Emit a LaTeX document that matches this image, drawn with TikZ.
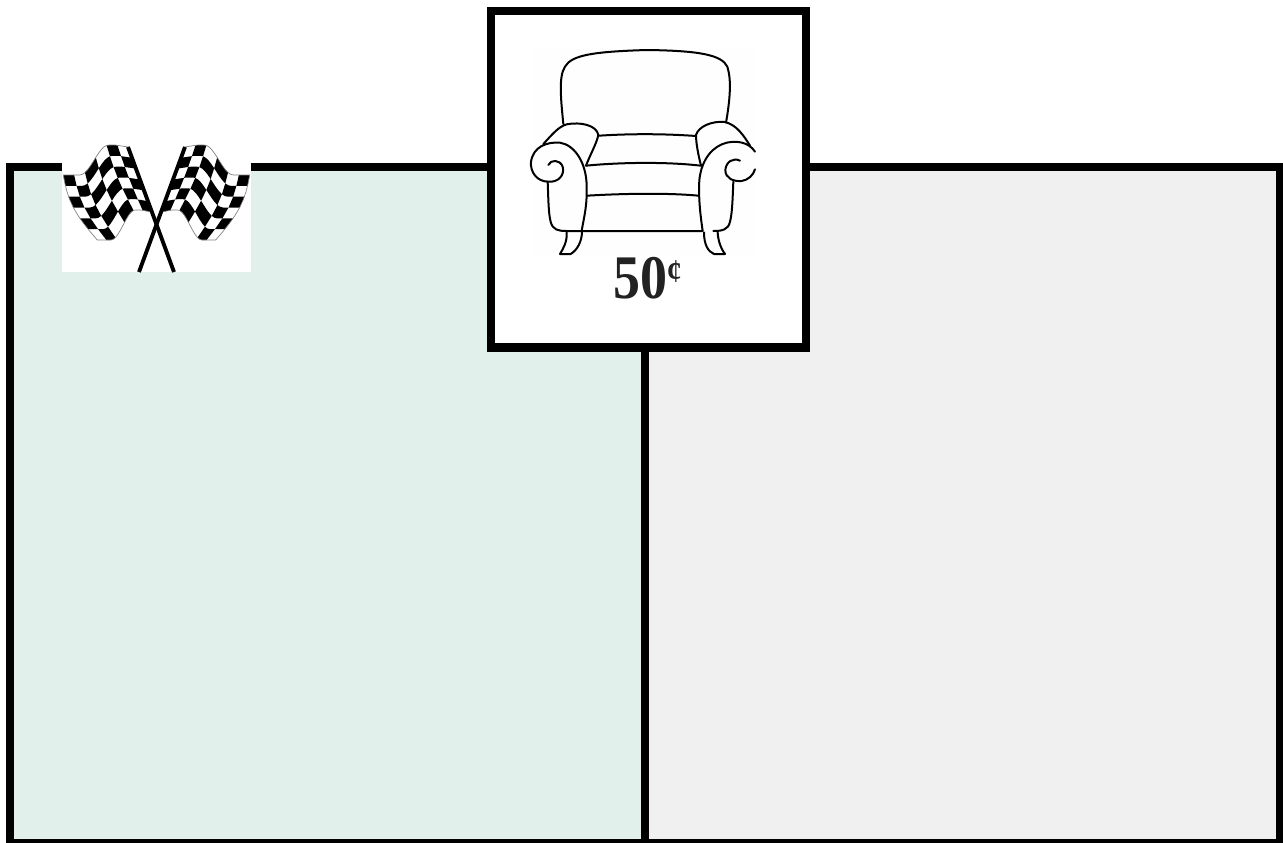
\documentclass[tikz,border=0pt]{standalone}
\usepackage{fontspec}
\setmainfont{Liberation Serif}
\definecolor{panelgreen}{HTML}{E1F0EB}
\definecolor{panelgrey}{HTML}{F0F0F0}
\definecolor{chairbg}{HTML}{FEFEFE}
\definecolor{pricecol}{HTML}{222222}
\pgfmathdeclarefunction{fx}{2}{\pgfmathparse{128.3-65*#1+(23.4+10.6*#1)*#2-7*#1*sin(180*#2)}}
\pgfmathdeclarefunction{fy}{2}{\pgfmathparse{145+2*max(0,1-#1/.2)+15*(1-cos(180*min(1,max(0,(#1-.3)/.45))))+65*#2}}
\tikzset{
  chairline/.style={line width=1.5pt,line cap=round,line join=round,black},
  flagedge/.style={line width=.5pt,gray},
  poleline/.style={line width=2.9pt,black},
}
\newcommand{\oneflag}{%
  \fill[white] plot[variable=\q,domain=0:1,samples=25] ({fx(\q,0)},{fy(\q,0)})
     -- plot[variable=\q,domain=0:1,samples=9] ({fx(1,\q)},{fy(1,\q)})
     -- plot[variable=\q,domain=1:0,samples=25] ({fx(\q,1)},{fy(\q,1)}) -- cycle;
  \foreach \i in {0,...,5}{\foreach \j in {0,...,5}{%
    \pgfmathtruncatemacro{\cellodd}{mod(\i+\j,2)}%
    \ifnum\cellodd=1
      \fill[black] plot[variable=\q,domain=0:1,samples=5] ({fx((\i+\q)/6,\j/6)},{fy((\i+\q)/6,\j/6)})
        -- plot[variable=\q,domain=1:0,samples=5] ({fx((\i+\q)/6,(\j+1)/6)},{fy((\i+\q)/6,(\j+1)/6)}) -- cycle;
    \fi}}
  \draw[flagedge] plot[variable=\q,domain=0:1,samples=25] ({fx(\q,0)},{fy(\q,0)})
     -- plot[variable=\q,domain=0:1,samples=9] ({fx(1,\q)},{fy(1,\q)})
     -- plot[variable=\q,domain=1:0,samples=25] ({fx(\q,1)},{fy(\q,1)});
  \draw[poleline] (128,147) -- (174,272);
}
\begin{document}
\begin{tikzpicture}[x=.75pt,y=-.75pt]
\useasboundingbox (0,0) rectangle (1283,843);
% panels
\fill[black] (6,163) rectangle (1283,843);
\fill[panelgreen] (14,171) rectangle (641,839);
\fill[panelgrey] (649,171) rectangle (1276,839);
% flags
\fill[white] (62,143) rectangle (251,272);
\oneflag
\begin{scope}[xshift=313*.75pt,xscale=-1]
\oneflag
\end{scope}
% price box
\fill[black] (487,7) rectangle (810,352);
\fill[white] (495,15) rectangle (802,343);
\begin{scope}[shift={(480,0)},x=.25pt,y=-.25pt]
\fill[chairbg] (153,148) rectangle (825,765);
% back
\draw[chairline] (250,372) .. controls (243,300) and (235,230) .. (255,200)
  .. controls (275,165) and (340,155) .. (500,150)
  .. controls (660,152) and (725,165) .. (742,200)
  .. controls (755,240) and (750,300) .. (738,368);
% left arm
\draw[chairline] (190,432) .. controls (215,405) and (235,380) .. (260,373)
  .. controls (300,365) and (350,375) .. (355,405) .. controls (350,430) and (330,465) .. (318,497);
\draw[chairline] (205,495) .. controls (212,478) and (240,478) .. (248,500)
  .. controls (255,525) and (235,548) .. (205,545)
  .. controls (170,545) and (150,515) .. (153,485)
  .. controls (160,440) and (200,425) .. (240,428)
  .. controls (285,435) and (320,490) .. (320,560)
  .. controls (322,620) and (310,660) .. (305,693);
\draw[chairline] (203,545) .. controls (205,590) and (205,640) .. (212,665)
  .. controls (218,690) and (235,693) .. (260,693) -- (668,693);
% right arm
\draw[chairline] (810,437) .. controls (790,405) and (770,375) .. (735,366)
  .. controls (695,362) and (655,380) .. (648,405) .. controls (648,430) and (655,465) .. (663,497);
\draw[chairline] (780,482) .. controls (760,472) and (738,485) .. (736,510)
  .. controls (736,535) and (760,545) .. (785,543)
  .. controls (805,540) and (820,525) .. (825,508);
\draw[chairline] (825,455) .. controls (805,425) and (770,422) .. (740,428)
  .. controls (700,438) and (665,475) .. (658,540)
  .. controls (655,600) and (662,650) .. (668,693);
\draw[chairline] (760,545) .. controls (758,590) and (757,640) .. (750,665)
  .. controls (745,690) and (725,693) .. (700,693);
% seat lines
\draw[chairline] (358,407) .. controls (450,401) and (550,401) .. (648,408);
\draw[chairline] (318,497) .. controls (420,487) and (560,485) .. (662,497);
\draw[chairline] (322,587) .. controls (420,581) and (560,578) .. (655,587);
% legs
\draw[chairline] (260,697) .. controls (262,725) and (250,745) .. (240,762) -- (272,762)
  .. controls (292,750) and (305,725) .. (306,697);
\draw[chairline] (672,697) .. controls (672,735) and (685,755) .. (702,762) -- (735,762)
  .. controls (722,745) and (714,720) .. (713,697);
\end{scope}
\node[anchor=base,inner sep=0pt,text=pricecol,font=\bfseries] (price) at (647.5,298)
  {\scalebox{.87}[1]{\fontsize{46.5}{46.5}\selectfont 50\raisebox{12pt}{\fontsize{25}{25}\selectfont ¢}}};
\end{tikzpicture}
\end{document}
